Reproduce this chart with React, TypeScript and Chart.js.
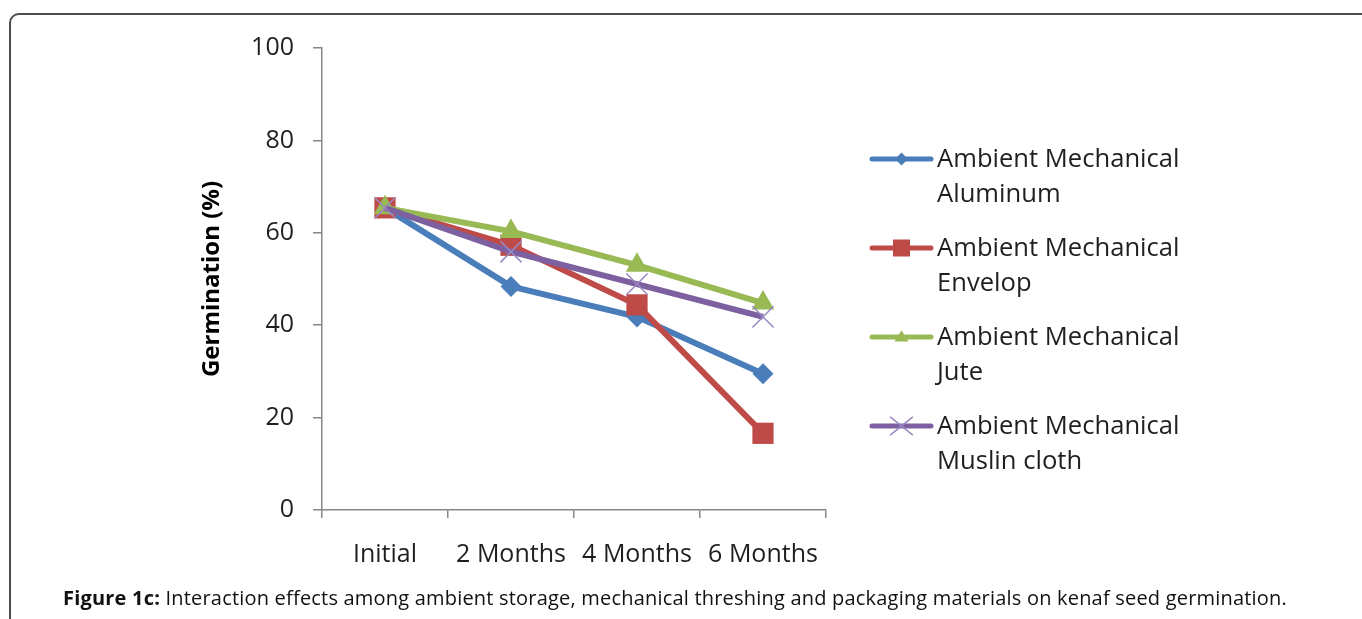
import React, { useEffect, useRef } from "react";
import { Chart, registerables } from "chart.js";

Chart.register(...registerables);

// Storage periods on the x axis
const categories = ["Initial", "2 Months", "4 Months", "6 Months"];

// Germination (%) per packaging material
const aluminum = [65.4, 48.4, 41.8, 29.5];
const envelop = [65.4, 57.3, 44.4, 16.6];
const jute = [65.4, 60.3, 53.0, 44.8];
const muslin = [65.4, 55.9, 48.9, 41.8];

// Legend labels (two lines each)
const labelAluminum = ["Ambient Mechanical", "Aluminum"];
const labelEnvelop = ["Ambient Mechanical", "Envelop"];
const labelJute = ["Ambient Mechanical", "Jute"];
const labelMuslin = ["Ambient Mechanical", "Muslin cloth"];

// Y axis tick values
const yTicks = [0, 20, 40, 60, 80, 100];

const FONT = '"Open Sans", Lato, sans-serif';
const AXIS_GREY = "#868686";
const TEXT = "#1f1f1f";

type Marker = "rectRot" | "rect" | "triangle" | "crossRot";

function drawMarker(
  ctx: CanvasRenderingContext2D,
  style: Marker,
  x: number,
  y: number,
  r: number,
  fill: string,
  stroke: string
) {
  ctx.save();
  ctx.fillStyle = fill;
  ctx.strokeStyle = stroke;
  ctx.beginPath();
  if (style === "rectRot") {
    ctx.moveTo(x, y - r);
    ctx.lineTo(x + r, y);
    ctx.lineTo(x, y + r);
    ctx.lineTo(x - r, y);
    ctx.closePath();
    ctx.fill();
  } else if (style === "rect") {
    ctx.rect(x - r, y - r, 2 * r, 2 * r);
    ctx.fill();
  } else if (style === "triangle") {
    const h = r * 1.6;
    ctx.moveTo(x, y - h * 0.6);
    ctx.lineTo(x + r, y + h * 0.4);
    ctx.lineTo(x - r, y + h * 0.4);
    ctx.closePath();
    ctx.fill();
  } else {
    ctx.lineWidth = 1.5;
    ctx.moveTo(x - r, y - r * 0.8);
    ctx.lineTo(x + r, y + r * 0.8);
    ctx.moveTo(x - r, y + r * 0.8);
    ctx.lineTo(x + r, y - r * 0.8);
    ctx.stroke();
  }
  ctx.restore();
}

const sideLegend = {
  id: "sideLegend",
  afterDraw(chart: any) {
    const ctx: CanvasRenderingContext2D = chart.ctx;
    const items: { lines: string[]; color: string; marker: Marker; markerColor: string; size: number }[] = [
      { lines: labelAluminum, color: "#4a7ebb", marker: "rectRot", markerColor: "#4a7ebb", size: 6.5 },
      { lines: labelEnvelop, color: "#be4b48", marker: "rect", markerColor: "#be4b48", size: 8.5 },
      { lines: labelJute, color: "#98b954", marker: "triangle", markerColor: "#98b954", size: 7 },
      { lines: labelMuslin, color: "#7d60a0", marker: "crossRot", markerColor: "#9a88c4", size: 11 },
    ];
    const x0 = 872;
    const x1 = 931;
    const textX = 937;
    ctx.save();
    items.forEach((it, i) => {
      const y = 159 + i * 89;
      ctx.strokeStyle = it.color;
      ctx.lineWidth = 5;
      ctx.lineCap = "round";
      ctx.beginPath();
      ctx.moveTo(x0, y);
      ctx.lineTo(x1, y);
      ctx.stroke();
      drawMarker(ctx, it.marker, (x0 + x1) / 2, y, it.size, it.markerColor, it.markerColor);
      ctx.fillStyle = TEXT;
      ctx.font = `25.6px ${FONT}`;
      ctx.textAlign = "left";
      ctx.textBaseline = "middle";
      it.lines.forEach((t, k) => ctx.fillText(t, textX, y + 1 + k * 35));
    });
    ctx.restore();
  },
};

export default function App() {
  const canvasRef = useRef<HTMLCanvasElement | null>(null);

  useEffect(() => {
    const canvas = canvasRef.current;
    if (!canvas) return;
    const chart = new Chart(canvas, {
      type: "line",
      data: {
        labels: categories,
        datasets: [
          {
            label: labelAluminum.join(" "),
            data: aluminum,
            borderColor: "#4a7ebb",
            backgroundColor: "#4a7ebb",
            borderWidth: 6,
            pointStyle: "rectRot",
            pointRadius: 10.5,
            pointBorderWidth: 0,
            order: 3,
          },
          {
            label: labelEnvelop.join(" "),
            data: envelop,
            borderColor: "#be4b48",
            backgroundColor: "#be4b48",
            borderWidth: 6,
            pointStyle: "rect",
            pointRadius: 15,
            pointBorderWidth: 0,
            order: 2,
          },
          {
            label: labelJute.join(" "),
            data: jute,
            borderColor: "#98b954",
            backgroundColor: "#98b954",
            borderWidth: 6,
            pointStyle: "triangle",
            pointRadius: 13,
            pointBorderWidth: 0,
            order: 1,
          },
          {
            label: labelMuslin.join(" "),
            data: muslin,
            borderColor: "#7d60a0",
            backgroundColor: "#7d60a0",
            borderWidth: 6,
            pointStyle: "crossRot",
            pointRadius: 15,
            pointBorderWidth: 1.5,
            pointBorderColor: "#9a88c4",
            order: 0,
          },
        ],
      },
      options: {
        animation: false,
        responsive: false,
        maintainAspectRatio: false,
        layout: { padding: { left: 0, top: 48, right: 536, bottom: 0 } },
        plugins: {
          legend: { display: false },
          tooltip: { enabled: false },
        },
        elements: { line: { tension: 0 } },
        scales: {
          x: {
            type: "category",
            offset: true,
            grid: {
              offset: true,
              drawOnChartArea: false,
              drawTicks: true,
              tickLength: 8,
              color: AXIS_GREY,
              lineWidth: 1.5,
            },
            border: { color: AXIS_GREY, width: 1.5 },
            ticks: {
              padding: 22,
              color: TEXT,
              font: { family: FONT, size: 25 },
              maxRotation: 0,
              autoSkip: false,
            },
            afterFit: (s: any) => {
              s.height = 109;
            },
          },
          y: {
            min: 0,
            max: 100,
            afterBuildTicks: (s: any) => {
              s.ticks = yTicks.map((v) => ({ value: v }));
            },
            grid: {
              drawOnChartArea: false,
              drawTicks: true,
              tickLength: 9,
              color: AXIS_GREY,
              lineWidth: 1.5,
            },
            border: { color: AXIS_GREY, width: 1.5 },
            ticks: {
              padding: 19,
              color: TEXT,
              font: { family: FONT, size: 25 },
            },
            title: {
              display: true,
              text: "Germination (%)",
              color: "#000",
              font: { family: FONT, size: 24, weight: "bold" },
              padding: { top: 198, bottom: 0 },
            },
            afterFit: (s: any) => {
              s.width = 322;
            },
          },
        },
      },
      plugins: [sideLegend],
    });
    return () => chart.destroy();
  }, []);

  return (
    <div
      style={{
        position: "fixed",
        left: 0,
        top: 0,
        width: 1362,
        height: 619,
        overflow: "hidden",
        background: "#fff",
      }}
    >
      <div
        style={{
          position: "absolute",
          left: 9,
          top: 13,
          width: 1420,
          height: 700,
          border: "2px solid #4d4d4d",
          borderTopLeftRadius: 10,
        }}
      />
      <canvas
        ref={canvasRef}
        width={1362}
        height={619}
        style={{ position: "absolute", left: 0, top: 0, width: 1362, height: 619 }}
      />
      <div
        style={{
          position: "absolute",
          left: 63,
          top: 585,
          whiteSpace: "nowrap",
          fontFamily: '"Open Sans", sans-serif',
          fontSize: 20,
          letterSpacing: "0.2px",
          lineHeight: "26px",
          color: "#111",
        }}
      >
        <b>Figure 1c:</b> Interaction effects among ambient storage, mechanical threshing and packaging materials on kenaf seed germination.
      </div>
    </div>
  );
}
